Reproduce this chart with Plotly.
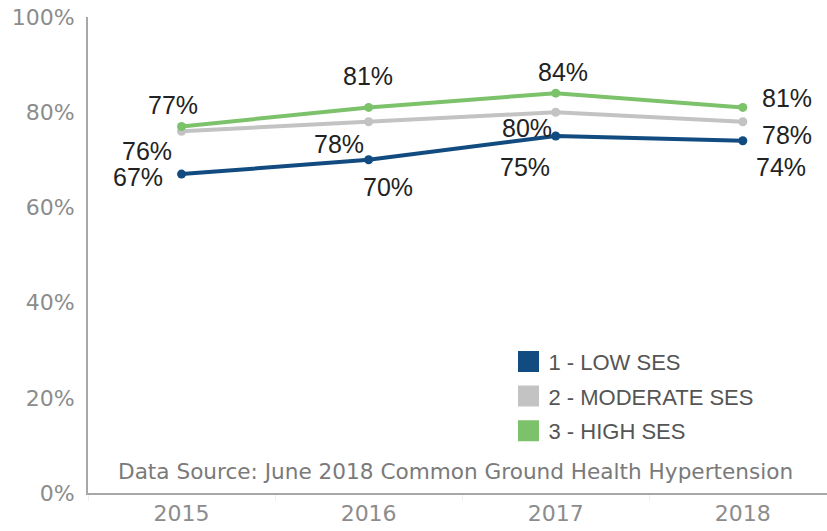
import plotly.graph_objects as go

# ── Data ──────────────────────────────────────────────────────────────────────
YEARS = ["2015", "2016", "2017", "2018"]
LOW_SES = [67, 70, 75, 74]
MODERATE_SES = [76, 78, 80, 78]
HIGH_SES = [77, 81, 84, 81]

SERIES_NAMES = ["1 - LOW SES", "2 - MODERATE SES", "3 - HIGH SES"]
Y_TICKS = [0, 20, 40, 60, 80, 100]
SOURCE = "Data Source: June 2018 Common Ground Health Hypertension"

# ── Style ─────────────────────────────────────────────────────────────────────
BLUE = "#114b7f"
GRAY = "#c3c3c3"
GREEN = "#7cc26a"
AXIS = "#a8a8a8"
TICK_TEXT = "#8c8c8c"
LABEL_FONT = "Liberation Sans, Arial, sans-serif"

# label offsets (px) from each point: (xshift, yshift)
LOW_OFFS = [(-44, -3), (19, -27), (-31, -31), (38, -26)]
MOD_OFFS = [(-35, -20), (-30, -22), (-29, -16), (44, -13)]
HIGH_OFFS = [(-9, 21), (-1, 31), (7, 21), (44, 9)]

series = [
    (SERIES_NAMES[0], LOW_SES, BLUE, LOW_OFFS),
    (SERIES_NAMES[1], MODERATE_SES, GRAY, MOD_OFFS),
    (SERIES_NAMES[2], HIGH_SES, GREEN, HIGH_OFFS),
]

fig = go.Figure()

for name, vals, color, offs in series:
    fig.add_trace(go.Scatter(
        x=YEARS, y=vals, mode="lines+markers",
        line=dict(color=color, width=4),
        marker=dict(color=color, size=9),
        showlegend=False,
        hovertemplate=name + " %{x}: %{y}%<extra></extra>",
    ))
    # category axis: annotations take the category index
    for i, (v, (dx, dy)) in enumerate(zip(vals, offs)):
        fig.add_annotation(
            x=i, y=v, text=f"{v}%", showarrow=False,
            xshift=dx, yshift=dy,
            font=dict(family=LABEL_FONT, size=25, color="#222222"),
        )

# legend-only entries with square swatches
for i, (name, vals, color, _) in enumerate(series):
    fig.add_trace(go.Scatter(
        x=[None], y=[None], mode="markers", name=name,
        marker=dict(symbol="square", size=16, color=color,
                    line=dict(color=color, width=5)),
        legendgroup=f"g{i}",
    ))

fig.add_annotation(
    text=SOURCE,
    xref="paper", yref="paper", x=0.497, y=0.046,
    xanchor="center", yanchor="middle", showarrow=False,
    font=dict(family="DejaVu Sans, Verdana, sans-serif", size=21.6, color="#7a7a7a"),
)

fig.update_layout(
    width=827, height=531,
    paper_bgcolor="white", plot_bgcolor="white",
    margin=dict(l=88, r=0, t=17, b=38),
    font=dict(family="DejaVu Sans, Verdana, sans-serif"),
    legend=dict(
        x=0.569, y=0.320, xanchor="left", yanchor="top",
        font=dict(family="Liberation Sans, Arial", size=22, color="#555555"),
        traceorder="grouped", tracegroupgap=3,
        bgcolor="rgba(0,0,0,0)",
    ),
    xaxis=dict(
        type="category", range=[-0.5, 3.45], automargin=False,
        showgrid=False, zeroline=False,
        showline=True, linecolor=AXIS, linewidth=2,
        ticks="outside", tickson="boundaries", ticklen=6, tickcolor="#eeeeee",
        tickfont=dict(size=22, color=TICK_TEXT),
    ),
    yaxis=dict(
        range=[0, 100], tickvals=Y_TICKS, automargin=False,
        ticktext=[f"{t}%" for t in Y_TICKS],
        showgrid=False, zeroline=False,
        showline=True, linecolor=AXIS, linewidth=2,
        tickfont=dict(size=22, color=TICK_TEXT),
        ticks="", ticklabelstandoff=7,
    ),
)

# page body has a default 8px margin; drop it so the figure fills the window
fig.write_html("out.html", config={"displayModeBar": False},
               post_script="document.body.style.margin='0';")
